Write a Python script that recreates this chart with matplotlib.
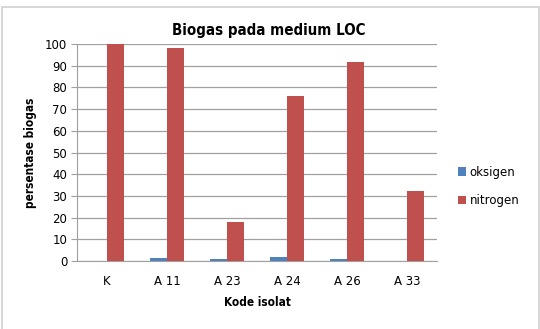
import matplotlib
matplotlib.use("Agg")
import matplotlib.pyplot as plt
from matplotlib.patches import Rectangle
import numpy as np

# data
kode = ["K", "A 11", "A 23", "A 24", "A 26", "A 33"]
oksigen = [0, 1.5, 0.7, 2.0, 1.1, 0]
nitrogen = [100, 98, 17.8, 76, 91.8, 32.2]

warna_o = "#4F81BD"
warna_n = "#C0504D"
abu = "#A0A0A0"

fig = plt.figure(figsize=(5.4, 3.29), dpi=100)
W, H = 540, 329
ax = fig.add_axes([77 / W, 1 - 261 / H, 360 / W, 217 / H])

x = np.arange(len(kode))
lebar = 0.285
ax.bar(x - lebar / 2, oksigen, lebar, color=warna_o, label="oksigen", zorder=3)
ax.bar(x + lebar / 2, nitrogen, lebar, color=warna_n, label="nitrogen", zorder=3)

ax.set_xlim(-0.5, len(kode) - 0.5)
ax.set_ylim(0, 100)
ax.set_yticks(range(0, 101, 10))
ax.set_xticks(x)
ax.set_xticklabels(kode)
ax.yaxis.grid(True, color=abu, linewidth=0.9, zorder=0)
for s in ["top", "right"]:
    ax.spines[s].set_visible(False)
for s in ["left", "bottom"]:
    ax.spines[s].set_color(abu)
ax.tick_params(axis="y", length=4, color=abu, labelsize=8.5, pad=3)
ax.tick_params(axis="x", length=0, labelsize=8.5, pad=10)

# judul sedikit ke kanan, seperti di grafik aslinya
fig.text(269 / W, 1 - 30 / H, "Biogas pada medium LOC", fontsize=10.8,
         fontweight="bold", fontstretch="condensed", ha="center", va="center")
ax.set_ylabel("persentase biogas", fontsize=8.5, fontweight="bold",
              fontstretch="condensed", labelpad=6)
ax.set_xlabel("Kode isolat", fontsize=8.5, fontweight="bold",
              fontstretch="condensed", labelpad=6)

leg = fig.legend(loc="upper left", bbox_to_anchor=(447 / W, 1 - 155 / H),
                 frameon=False, fontsize=8.5, handlelength=0.7, handleheight=0.7,
                 handletextpad=0.3, labelspacing=1.3)

# bingkai tipis di sekeliling grafik
fig.patches.append(Rectangle((2 / W, -0.01), 537 / W, 1 - 7 / H + 0.01,
                             transform=fig.transFigure, fill=False,
                             edgecolor="#D0D0D0", linewidth=1.2))

fig.savefig("out.png", dpi=100)
